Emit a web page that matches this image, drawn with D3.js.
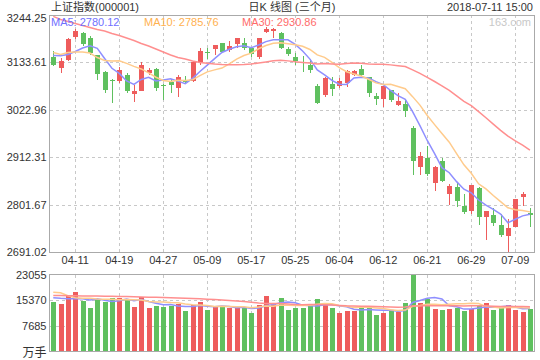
<!DOCTYPE html>
<html><head><meta charset="utf-8">
<script src="https://cdn.jsdelivr.net/npm/d3@7"></script>
<style>
body{margin:0;background:#fff}
svg{display:block}
text{font-family:"Liberation Sans",Arial,"Noto Sans CJK SC",sans-serif}
</style>
</head><body>
<svg id="c" width="540" height="360"></svg>
<script>
// ---------- data ----------
const title = "上证指数(000001)";
const subtitle = "日K 线图 (三个月)";
const stamp = "2018-07-11 15:00";
const dates = ["04-04","04-09","04-10","04-11","04-12","04-13","04-16","04-17","04-18","04-19","04-20","04-23","04-24","04-25","04-26","04-27",
"05-02","05-03","05-04","05-07","05-08","05-09","05-10","05-11","05-14","05-15","05-16","05-17","05-18","05-21","05-22","05-23","05-24","05-25","05-28","05-29","05-30","05-31",
"06-01","06-04","06-05","06-06","06-07","06-08","06-11","06-12","06-13","06-14","06-15","06-19","06-20","06-21","06-22","06-25","06-26","06-27","06-28","06-29",
"07-02","07-03","07-04","07-05","07-06","07-09","07-10","07-11"];
const open = [3146.9,3121.2,3139.2,3192.9,3202.2,3190.6,3150.9,3111.2,3093.5,3090.2,
 3104.2,3061.0,3067.6,3110.0,3118.9,3081.3,3086.7,3073.2,3091.4,3090.2,
 3131.5,3157.9,3166.0,3178.2,3162.5,3177.7,3178.2,3167.9,3145.5,3203.9,
 3206.9,3201.5,3164.9,3146.9,3135.7,3127.5,3077.4,3057.5,3083.2,3078.5,
 3084.8,3104.2,3118.2,3098.8,3055.2,3048.2,3069.2,3035.3,3036.5,2980.5,
 2888.3,2911.2,2852.8,2903.9,2827.1,2842.8,2799.1,2787.4,2841.1,2773.4,
 2777.4,2754.0,2728.4,2750.1,2818.7,2781.4];
const high = [3160.2,3144.6,3190.0,3211.6,3203.5,3195.2,3151.5,3113.5,3094.0,3124.0,
 3107.7,3082.0,3134.5,3121.2,3121.2,3084.0,3093.7,3104.2,3100.7,3136.9,
 3167.9,3167.2,3174.3,3179.0,3183.6,3190.6,3189.9,3170.7,3191.3,3216.2,
 3212.8,3203.4,3170.7,3156.7,3148.5,3140.4,3083.2,3098.8,3098.8,3096.5,
 3114.7,3115.9,3127.5,3099.5,3062.2,3079.2,3070.3,3062.2,3047.5,2984.0,
 2925.2,2938.5,2891.8,2909.7,2849.7,2855.1,2827.1,2848.1,2842.8,2786.7,
 2793.0,2778.6,2767.3,2814.7,2830.4,2793.7];
const low = [3125.2,3107.7,3137.0,3188.2,3171.9,3151.6,3092.5,3062.2,3038.8,3084.8,
 3062.9,3042.3,3067.0,3104.2,3066.9,3045.8,3061.5,3053.5,3084.8,3087.9,
 3128.7,3141.5,3150.9,3156.7,3157.9,3167.2,3163.7,3146.2,3142.2,3201.5,
 3189.9,3166.0,3148.5,3127.5,3111.9,3108.2,3036.5,3051.7,3055.2,3073.1,
 3076.9,3101.2,3101.9,3051.7,3034.2,3029.5,3041.2,3031.8,3006.9,2869.6,
 2869.6,2867.3,2834.1,2854.4,2800.7,2796.8,2779.7,2780.4,2754.0,2719.0,
 2752.4,2726.7,2691.0,2749.4,2799.1,2750.1];
const close = [3127.5,3136.9,3188.2,3206.9,3175.9,3154.9,3107.2,3069.2,3092.0,3115.9,
 3066.9,3066.9,3127.5,3116.3,3073.1,3080.0,3080.9,3098.8,3086.7,3135.2,
 3160.2,3156.0,3174.2,3158.6,3171.9,3189.9,3166.5,3152.5,3189.9,3211.6,
 3210.5,3166.5,3152.5,3137.3,3134.1,3115.9,3039.5,3096.5,3071.5,3090.2,
 3113.5,3114.5,3104.2,3062.9,3048.9,3078.5,3045.8,3043.5,3020.9,2904.2,
 2915.1,2873.1,2890.2,2857.2,2845.1,2810.8,2785.1,2847.4,2773.4,2786.7,
 2759.4,2730.7,2746.3,2814.0,2826.4,2777.4];
const volume = [14820,14222,16916,17814,15120,13114,15808,14820,16018,16108,
 15808,13323,16407,13114,13712,13413,13712,14222,12216,13922,
 14820,12515,13413,13413,13114,12934,13323,11617,14012,16707,
 14611,16108,12515,13114,13114,13623,15808,14222,13114,11617,
 12216,12216,13114,13623,11018,11617,12216,11826,14611,23055,
 14611,15719,12814,12515,12814,13114,12216,12814,14012,14611,
 12515,13114,14012,12515,11916,12814];
const ma5Head = [3149.7,3149.2,3152.0,3159.0];
const ma10Head = [3156.7,3152.0,3156.7,3157.9,3157.9,3155.5,3145.0,3138.0,3136.9];
const ma30Head = [3241.0,3233.7,3229.1,3224.4,3219.7,3215.1,3210.4,3206.9,3201.1,3196.4,
 3190.6,3184.7,3177.7,3171.9,3164.9,3157.9,3150.9,3145.0,3141.5,3136.9,
 3133.4,3131.5,3129.9,3128.7,3128.2,3128.2,3128.7,3129.9,3132.2];
const vma5Head = [16108,15928,15808,15808];
const vma10Head = [17724,17604,16707,16108,15928,15928,15719,15629,15629];
const vma30Head = [16766,16740,16700,16690,16650,16617,16590,16560,16530,16500,
 16467,16400,16340,16280,16220,16168,16090,16010,15940,15868,
 15770,15670,15569,15420,15269,15120,14970,14750,14521];
const maLegend = [["MA5: ","2780.12"],["MA10: ","2785.76"],["MA30: ","2930.86"]];
const yTicks = [3244.25,3133.61,3022.96,2912.31,2801.67,2691.02];
const volTicks = [23055,15370,7685];
const volUnit = "万手";
const xTickLabels = ["04-11","04-19","04-27","05-09","05-17","05-25","06-04","06-12","06-21","06-29","07-09"];
const watermark = "163.com";

// ---------- styles ----------
const RED = "#ee5c5c", GREEN = "#5fc05f";
const MA_COL = ["#8f8fff","#ffcb8c","#ff8f8f"];
const MA_TXT = ["#6f6fff","#ffb14f","#ff6b6b"];
const GRID = "#c8c8c8", BORDER = "#aaaaaa", TXT = "#333";

const svg = d3.select("#c");
const L = 49.5, R = 534.5, mT = 15, mB = 252, vT = 274.5, vB = 351.5;

const x = d3.scaleBand().domain(dates).range([49.6, 533.6]);
const cx = d => x(d) + x.bandwidth() / 2;
const y = d3.scaleLinear().domain(d3.extent(yTicks)).range([mB, mT]);
const yv = d3.scaleLinear().domain([0, d3.max(volTicks)]).range([vB, vT]);

function movingAvg(vals, n, head) {
  return vals.map((v, i) => i < n - 1 ? head[i] : d3.mean(vals.slice(i - n + 1, i + 1)));
}
const ma = [movingAvg(close,5,ma5Head), movingAvg(close,10,ma10Head), movingAvg(close,30,ma30Head)];
const vma = [movingAvg(volume,5,vma5Head), movingAvg(volume,10,vma10Head), movingAvg(volume,30,vma30Head)];

// ---------- header ----------
svg.append("text").attr("x", 51).attr("y", 11).attr("font-size", 11).attr("fill", TXT).text(title);
svg.append("text").attr("x", (L + R) / 2).attr("y", 11).attr("font-size", 11).attr("fill", TXT)
  .attr("text-anchor", "middle").text(subtitle);
svg.append("text").attr("x", 533).attr("y", 11).attr("font-size", 11).attr("fill", TXT)
  .attr("text-anchor", "end").text(stamp);

// ---------- grids ----------
const g = svg.append("g").attr("stroke", GRID).attr("stroke-dasharray", "3,3").attr("shape-rendering", "crispEdges");
yTicks.slice(1, -1).forEach(t => {
  const yy = Math.round(y(t)) + 0.5;
  g.append("line").attr("x1", L).attr("x2", R).attr("y1", yy).attr("y2", yy);
});
volTicks.slice(1).forEach(t => {
  const yy = Math.round(yv(t)) + 0.5;
  g.append("line").attr("x1", L).attr("x2", R).attr("y1", yy).attr("y2", yy);
});
xTickLabels.forEach(dl => {
  const xx = Math.round(cx(dl)) + 0.5;
  g.append("line").attr("x1", xx).attr("x2", xx).attr("y1", mT).attr("y2", mB);
  g.append("line").attr("x1", xx).attr("x2", xx).attr("y1", vT).attr("y2", vB);
});

// ---------- candles ----------
const cg = svg.append("g").attr("shape-rendering", "crispEdges");
dates.forEach((d, i) => {
  const up = close[i] >= open[i];
  const col = up ? RED : GREEN;
  const c = Math.round(cx(d));
  cg.append("line").attr("x1", c + 0.5).attr("x2", c + 0.5)
    .attr("y1", y(high[i])).attr("y2", y(low[i])).attr("stroke", col);
  const top = y(Math.max(open[i], close[i])), bot = y(Math.min(open[i], close[i]));
  cg.append("rect").attr("x", c - 2).attr("width", 5)
    .attr("y", top).attr("height", Math.max(1, bot - top)).attr("fill", col);
  // volume bar
  cg.append("rect").attr("x", c - 2).attr("width", 5)
    .attr("y", yv(volume[i])).attr("height", vB - yv(volume[i])).attr("fill", col);
});

// ---------- MA lines ----------
const line = d3.line().x((v, i) => cx(dates[i]));
ma.forEach((arr, k) => {
  svg.append("path").attr("d", line.y(v => y(v))(arr)).attr("fill", "none")
    .attr("stroke", MA_COL[k]).attr("stroke-width", 1.5);
});
vma.forEach((arr, k) => {
  svg.append("path").attr("d", line.y(v => yv(v))(arr)).attr("fill", "none")
    .attr("stroke", MA_COL[k]).attr("stroke-width", 1.5);
});

// ---------- borders ----------
svg.append("rect").attr("x", L).attr("y", mT + 0.5).attr("width", R - L).attr("height", mB - mT - 0.5)
  .attr("fill", "none").attr("stroke", BORDER).attr("shape-rendering", "crispEdges");
svg.append("rect").attr("x", L).attr("y", vT).attr("width", R - L).attr("height", vB - vT)
  .attr("fill", "none").attr("stroke", BORDER).attr("shape-rendering", "crispEdges");

// ---------- legend & watermark ----------
const lx = [51, 144, 242];
maLegend.forEach((m, k) => {
  svg.append("text").attr("x", lx[k]).attr("y", 26).attr("font-size", 11).attr("fill", MA_TXT[k])
    .text(m[0] + m[1]);
});
svg.append("text").attr("x", 531).attr("y", 26).attr("font-size", 11).attr("fill", "#c8c8c8")
  .attr("text-anchor", "end").text(watermark);

// ---------- axes ----------
const ya = svg.append("g").attr("transform", `translate(${L},0)`)
  .call(d3.axisLeft(y).tickValues(yTicks).tickFormat(d => d.toFixed(2)).tickSize(0).tickPadding(3));
ya.select(".domain").remove();
ya.selectAll("text").attr("font-size", 11).attr("fill", TXT).attr("font-family", null)
  .attr("dy", (d, i) => i === 0 ? "0.55em" : "0.32em");

const va = svg.append("g").attr("transform", `translate(${L},0)`)
  .call(d3.axisLeft(yv).tickValues(volTicks).tickFormat(d3.format("d")).tickSize(0).tickPadding(3));
va.select(".domain").remove();
va.selectAll("text").attr("font-size", 11).attr("fill", TXT).attr("font-family", null);
svg.append("text").attr("x", L - 3).attr("y", 357).attr("font-size", 12).attr("fill", TXT)
  .attr("text-anchor", "end").attr("font-family", "Noto Sans CJK SC").text(volUnit);

const xa = svg.append("g").attr("transform", `translate(0,${mB})`)
  .call(d3.axisBottom(x).tickValues(xTickLabels).tickSize(0).tickPadding(4));
xa.select(".domain").remove();
xa.selectAll("text").attr("font-size", 11).attr("fill", TXT).attr("font-family", null);
</script>
</body></html>
